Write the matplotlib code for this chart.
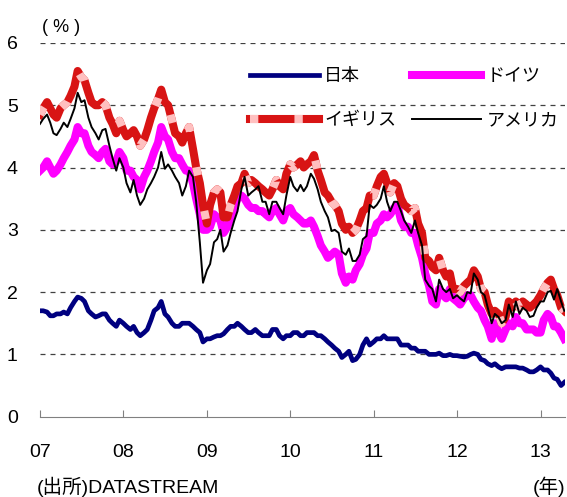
import numpy as np
import pandas as pd
import matplotlib
matplotlib.use('Agg')
import matplotlib.pyplot as plt
from matplotlib.legend_handler import HandlerTuple

plt.rcParams['font.family'] = ['Liberation Sans', 'Noto Sans CJK JP']
plt.rcParams['lines.scale_dashes'] = False

# 10-year government bond yields, semi-monthly readings (%)
dates = pd.date_range('2007-01-01', periods=152, freq='SMS')

japan = [
    1.70, 1.70, 1.68, 1.62, 1.62, 1.65, 1.65, 1.68, 1.65, 1.75, 1.85, 1.92,
    1.90, 1.85, 1.70, 1.65, 1.60, 1.62, 1.65, 1.65, 1.55, 1.50, 1.45, 1.55,
    1.50, 1.45, 1.40, 1.45, 1.35, 1.30, 1.35, 1.40, 1.55, 1.70, 1.75, 1.85,
    1.65, 1.60, 1.50, 1.45, 1.45, 1.50, 1.50, 1.50, 1.45, 1.40, 1.35, 1.20,
    1.25, 1.25, 1.28, 1.30, 1.30, 1.33, 1.40, 1.45, 1.45, 1.50, 1.45, 1.40,
    1.35, 1.35, 1.40, 1.35, 1.30, 1.30, 1.30, 1.40, 1.40, 1.30, 1.25, 1.30,
    1.30, 1.35, 1.35, 1.30, 1.30, 1.35, 1.35, 1.35, 1.30, 1.30, 1.25, 1.20,
    1.15, 1.10, 1.05, 0.95, 1.00, 1.05, 0.90, 0.92, 1.00, 1.15, 1.25, 1.15,
    1.20, 1.25, 1.25, 1.30, 1.25, 1.25, 1.25, 1.25, 1.15, 1.15, 1.15, 1.10,
    1.10, 1.05, 1.05, 1.05, 1.00, 1.00, 1.00, 1.02, 0.98, 0.98, 1.00, 0.98,
    0.98, 0.97, 0.96, 0.97, 1.00, 1.02, 1.00, 0.92, 0.90, 0.85, 0.82, 0.85,
    0.80, 0.77, 0.80, 0.80, 0.80, 0.80, 0.78, 0.78, 0.75, 0.72, 0.72, 0.75,
    0.80, 0.75, 0.75, 0.70, 0.62, 0.60, 0.50, 0.55,
]

germany = [
    3.95, 4.00, 4.10, 4.00, 3.90, 3.95, 4.05, 4.15, 4.25, 4.35, 4.45, 4.65,
    4.55, 4.55, 4.35, 4.25, 4.20, 4.15, 4.25, 4.30, 4.10, 4.05, 4.10, 4.25,
    4.15, 3.95, 3.95, 3.85, 3.80, 3.65, 3.85, 3.95, 4.10, 4.25, 4.40, 4.65,
    4.50, 4.45, 4.25, 4.15, 4.15, 4.05, 3.95, 3.95, 3.75, 3.50, 3.25, 3.00,
    3.00, 3.05, 3.25, 3.20, 3.15, 2.95, 3.05, 3.20, 3.35, 3.50, 3.55, 3.50,
    3.40, 3.35, 3.35, 3.30, 3.30, 3.25, 3.20, 3.30, 3.35, 3.25, 3.15, 3.30,
    3.35, 3.25, 3.20, 3.15, 3.10, 3.10, 3.15, 3.05, 2.90, 2.75, 2.65, 2.55,
    2.60, 2.65, 2.60, 2.30, 2.15, 2.25, 2.20, 2.35, 2.45, 2.60, 2.70, 2.95,
    2.95, 3.10, 3.15, 3.25, 3.20, 3.25, 3.35, 3.40, 3.15, 3.05, 3.05, 2.95,
    2.95, 2.75, 2.55, 2.30, 2.10, 1.85, 1.80, 2.05, 1.95, 1.90, 2.05, 1.90,
    1.85, 1.80, 1.90, 1.95, 1.95, 1.85, 1.75, 1.70, 1.55, 1.45, 1.25, 1.50,
    1.35, 1.25, 1.40, 1.50, 1.45, 1.60, 1.50, 1.50, 1.40, 1.40, 1.40, 1.35,
    1.35, 1.55, 1.65, 1.60, 1.45, 1.45, 1.35, 1.25,
]

uk = [
    4.85, 4.95, 5.05, 4.95, 4.85, 4.80, 4.95, 5.00, 5.05, 5.15, 5.30, 5.55,
    5.45, 5.40, 5.20, 5.05, 5.00, 5.00, 5.05, 5.00, 4.80, 4.70, 4.55, 4.75,
    4.60, 4.50, 4.55, 4.60, 4.50, 4.35, 4.45, 4.60, 4.80, 4.95, 5.10, 5.25,
    5.05, 5.00, 4.75, 4.55, 4.50, 4.40, 4.55, 4.65, 4.30, 4.00, 3.75, 3.40,
    3.10, 3.40, 3.60, 3.65, 3.60, 3.20, 3.20, 3.40, 3.55, 3.70, 3.75, 3.90,
    3.75, 3.80, 3.75, 3.70, 3.65, 3.60, 3.55, 3.65, 3.80, 3.70, 3.65, 3.90,
    4.05, 4.00, 4.05, 4.10, 4.00, 4.05, 4.10, 4.20, 3.95, 3.80, 3.60, 3.55,
    3.45, 3.40, 3.30, 3.10, 3.00, 3.05, 2.95, 3.00, 3.15, 3.30, 3.35, 3.55,
    3.55, 3.70, 3.85, 3.90, 3.75, 3.60, 3.75, 3.70, 3.50, 3.40, 3.35, 3.30,
    3.35, 3.10, 2.95, 2.55, 2.50, 2.40, 2.35, 2.55, 2.35, 2.25, 2.30, 2.05,
    2.05, 2.00, 2.10, 2.15, 2.20, 2.35, 2.25, 2.05, 2.00, 1.80, 1.65, 1.70,
    1.65, 1.50, 1.60, 1.85, 1.75, 1.85, 1.75, 1.85, 1.80, 1.75, 1.80, 1.85,
    1.95, 2.05, 2.15, 2.20, 2.05, 1.95, 1.75, 1.70,
]

us = [
    4.70, 4.78, 4.85, 4.72, 4.55, 4.52, 4.62, 4.72, 4.65, 4.78, 4.95, 5.20,
    5.05, 5.08, 4.80, 4.65, 4.55, 4.45, 4.60, 4.62, 4.35, 4.15, 3.95, 4.15,
    4.00, 3.75, 3.60, 3.80, 3.55, 3.40, 3.50, 3.65, 3.75, 3.85, 4.00, 4.25,
    3.98, 4.05, 3.95, 3.85, 3.75, 3.55, 3.70, 3.95, 3.85, 3.45, 2.80, 2.15,
    2.35, 2.45, 2.80, 2.85, 3.00, 2.65, 2.75, 2.95, 3.15, 3.30, 3.65, 3.85,
    3.55, 3.60, 3.65, 3.70, 3.45, 3.45, 3.25, 3.45, 3.45, 3.35, 3.25, 3.55,
    3.85, 3.70, 3.62, 3.72, 3.62, 3.70, 3.90, 3.82, 3.65, 3.45, 3.30, 3.20,
    2.98, 3.00, 2.95, 2.65, 2.60, 2.70, 2.50, 2.50, 2.60, 2.85, 2.90, 3.40,
    3.35, 3.40, 3.50, 3.70, 3.45, 3.30, 3.45, 3.45, 3.30, 3.15, 3.05, 2.95,
    3.15, 2.95, 2.75, 2.20, 2.10, 2.05, 1.85, 2.20, 2.05, 2.00, 2.05, 1.90,
    1.95, 1.90, 1.85, 2.00, 1.98, 2.30, 2.20, 2.00, 1.95, 1.75, 1.50, 1.65,
    1.60, 1.50, 1.55, 1.80, 1.60, 1.85, 1.65, 1.75, 1.70, 1.60, 1.62, 1.75,
    1.85, 1.85, 2.00, 2.02, 1.88, 2.05, 1.85, 1.70,
]

years = [2007, 2008, 2009, 2010, 2011, 2012, 2013]
year_labels = ['07', '08', '09', '10', '11', '12', '13']

fig = plt.figure(figsize=(5.67, 4.97), dpi=100)
ax = fig.add_axes([0.0705, 0.1616, 0.9255, 0.752])

# dashed reference lines
for v in range(1, 7):
    ax.axhline(v, color='#404040', lw=0.9, dashes=(3.6, 3.6), zorder=0.5)

l_jp, = ax.plot(dates, japan, color='#000080', lw=3.4)
l_de, = ax.plot(dates, germany, color='#ff00ff', lw=5.8)
l_uk, = ax.plot(dates, uk, color='#d81414', lw=5.8)
l_uk2, = ax.plot(dates, uk, color='#ffc0c0', lw=5.8, dashes=(6, 26))
l_us, = ax.plot(dates, us, color='black', lw=1.4)

ax.set_ylim(0, 6)
ax.set_xlim(pd.Timestamp('2007-01-01'), pd.Timestamp('2013-04-17'))
ax.set_yticks(range(7))
ax.set_xticks([pd.Timestamp(f'{y}-01-01') for y in years])
ax.set_xticklabels(year_labels)

for side in ['left', 'top', 'right']:
    ax.spines[side].set_visible(False)
ax.spines['bottom'].set_color('#808080')
ax.tick_params(axis='y', length=0, pad=16, labelsize=14)
ax.tick_params(axis='x', direction='in', length=5, color='#808080',
               pad=20, labelsize=14)

ax.legend([l_jp, (l_uk, l_uk2), l_de, l_us],
          ['日本', 'イギリス', 'ドイツ', 'アメリカ'],
          handler_map={tuple: HandlerTuple(ndivide=1)},
          ncol=2, frameon=False, fontsize=13,
          handlelength=3.8, handletextpad=0.3, columnspacing=0.9,
          labelspacing=1.5, borderpad=0, borderaxespad=0,
          loc='upper left', bbox_to_anchor=(250 / 567, 1 - 68 / 497),
          bbox_transform=fig.transFigure)

fig.text(61 / 567, 1 - 27 / 497, '( % )', fontsize=13, ha='center', va='center')
fig.text(37 / 567, 1 - 487 / 497, '(出所)DATASTREAM', fontsize=14,
         ha='left', va='center')
fig.text(565 / 567, 1 - 487 / 497, '(年)', fontsize=14, ha='right', va='center')

fig.savefig('out.png', dpi=100)
